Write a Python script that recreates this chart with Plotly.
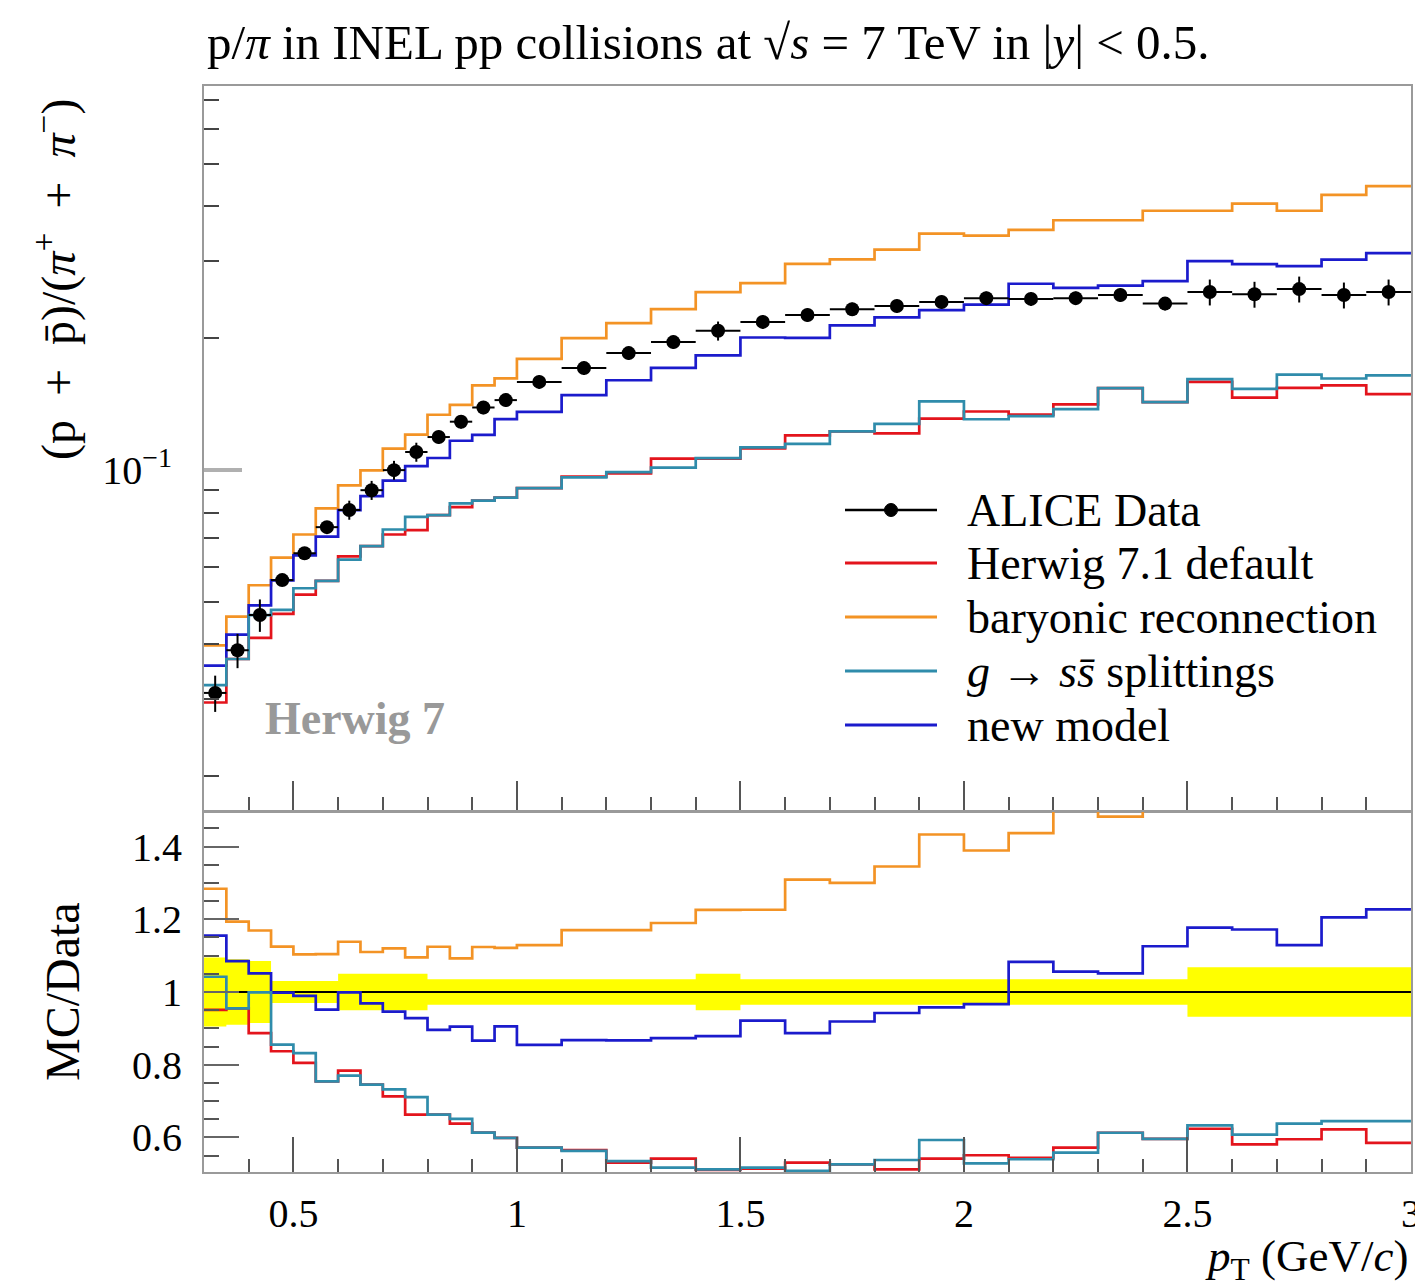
import plotly.graph_objects as go

# ---------------- data ----------------
edges = [0.30, 0.35, 0.40, 0.45, 0.50, 0.55, 0.60, 0.65, 0.70, 0.75, 0.80, 0.85, 0.90, 0.95, 1.00,
         1.1, 1.2, 1.3, 1.4, 1.5, 1.6, 1.7, 1.8, 1.9, 2.0, 2.1, 2.2, 2.3, 2.4, 2.5, 2.6, 2.7, 2.8, 2.9, 3.0]

alice = [0.0310, 0.0388, 0.0467, 0.0561, 0.0646, 0.0741, 0.0811, 0.0900, 0.1000, 0.1100,
         0.1190, 0.1290, 0.1390, 0.1445, 0.159, 0.171, 0.185, 0.196, 0.208, 0.218,
         0.226, 0.233, 0.237, 0.242, 0.247, 0.246, 0.247, 0.251, 0.240, 0.255,
         0.252, 0.259, 0.251, 0.255]

alice_relerr = [0.095, 0.090, 0.085, 0.030, 0.030, 0.030, 0.050, 0.050, 0.050, 0.050,
                0.035, 0.035, 0.035, 0.035, 0.035, 0.035, 0.035, 0.035, 0.050, 0.035,
                0.035, 0.035, 0.035, 0.035, 0.035, 0.035, 0.035, 0.035, 0.035, 0.068,
                0.068, 0.068, 0.068, 0.068]

herwig_default = [0.02948, 0.03705, 0.04142, 0.04696, 0.05200, 0.05587, 0.06358, 0.06705, 0.07130, 0.07293,
                  0.07890, 0.08230, 0.08521, 0.08656, 0.09095, 0.09662, 0.09824, 0.10623, 0.10629, 0.11205,
                  0.12001, 0.12256, 0.12134, 0.13116, 0.13610, 0.13382, 0.14128, 0.15386, 0.14304, 0.15912,
                  0.14641, 0.15411, 0.15612, 0.14918]

baryonic_reco = [0.0398, 0.0463, 0.0546, 0.0631, 0.0713, 0.0818, 0.0923, 0.0999, 0.1120, 0.1205,
                 0.1338, 0.1409, 0.1562, 0.1620, 0.1795, 0.2001, 0.2165, 0.2332, 0.2550, 0.2673,
                 0.2958, 0.3029, 0.3188, 0.3468, 0.3431, 0.3535, 0.372, 0.372, 0.391, 0.391,
                 0.406, 0.391, 0.425, 0.445]

g_to_ssbar = [0.03230, 0.03705, 0.04665, 0.04797, 0.05375, 0.05587, 0.06245, 0.06705, 0.07320, 0.07821,
              0.07890, 0.08398, 0.08521, 0.08656, 0.09095, 0.09627, 0.09898, 0.10133, 0.10650, 0.11271,
              0.11481, 0.12256, 0.12751, 0.14351, 0.13066, 0.13284, 0.13783, 0.15386, 0.14304, 0.16142,
              0.15322, 0.16524, 0.16190, 0.16448]

new_model = [0.0358, 0.0421, 0.0491, 0.0560, 0.0639, 0.0705, 0.0810, 0.0872, 0.0946, 0.1021,
             0.1066, 0.1167, 0.1204, 0.1308, 0.1359, 0.1484, 0.1604, 0.1711, 0.1828, 0.2008,
             0.2005, 0.2141, 0.2233, 0.2318, 0.2388, 0.2664, 0.2608, 0.2638, 0.2702, 0.3001,
             0.2953, 0.2924, 0.3025, 0.3129]

x_tick_vals = [0.5, 1.0, 1.5, 2.0, 2.5, 3.0]
x_tick_text = ["0.5", "1", "1.5", "2", "2.5", "3"]
x_minor_vals = [0.4, 0.6, 0.7, 0.8, 0.9, 1.1, 1.2, 1.3, 1.4, 1.6, 1.7, 1.8, 1.9,
                2.1, 2.2, 2.3, 2.4, 2.6, 2.7, 2.8, 2.9]
y_tick_vals = [0.1]
y_tick_text = ["10<sup>−1</sup>"]
y_minor_vals = [0.02, 0.03, 0.04, 0.05, 0.06, 0.07, 0.08, 0.09, 0.2, 0.3, 0.4, 0.5, 0.6, 0.7]
r_tick_vals = [0.6, 0.8, 1.0, 1.2, 1.4]
r_tick_text = ["0.6", "0.8", "1", "1.2", "1.4"]
r_minor_vals = [0.55, 0.65, 0.7, 0.75, 0.85, 0.9, 0.95, 1.05, 1.1, 1.15, 1.25, 1.3, 1.35, 1.45]

# ---------------- styles ----------------
FONT = "Liberation Serif, DejaVu Serif, serif"
models = [
    ("Herwig 7.1 default", herwig_default, "#e3141c", 2.7),
    ("baryonic reconnection", baryonic_reco, "#f39325", 2.7),
    ("<i>g</i> → <i>s</i><i>s̄</i> splittings", g_to_ssbar, "#2f8cab", 2.7),
    ("new model", new_model, "#1b1bcc", 2.7),
]
draw_order = [1, 3, 0, 2]

W, H = 1415, 1288
ML, MR, MT, MB = 204, 4, 86, 116
PW, PH = W - ML - MR, H - MT - MB


def px(xp):
    return (xp - ML) / PW


def py(yp):
    return (H - MB - yp) / PH


centers = [(a + b) / 2 for a, b in zip(edges[:-1], edges[1:])]
halfw = [(b - a) / 2 for a, b in zip(edges[:-1], edges[1:])]


def step(v):
    return list(v) + [v[-1]]


fig = go.Figure()

# ratio band (data uncertainty)
band_lo = [1 - e for e in alice_relerr]
band_hi = [1 + e for e in alice_relerr]
fig.add_trace(go.Scatter(x=edges, y=step(band_lo), xaxis="x2", yaxis="y2", mode="lines",
                         line=dict(shape="hv", width=0, color="#ffff00"), showlegend=False, hoverinfo="skip"))
fig.add_trace(go.Scatter(x=edges, y=step(band_hi), xaxis="x2", yaxis="y2", mode="lines",
                         line=dict(shape="hv", width=0, color="#ffff00"), fill="tonexty",
                         fillcolor="#ffff00", showlegend=False, hoverinfo="skip"))
fig.add_trace(go.Scatter(x=edges, y=step([d / d for d in alice]), xaxis="x2", yaxis="y2", mode="lines",
                         line=dict(shape="hv", width=2, color="black"), showlegend=False))

for i in draw_order:
    name, vals, col, lw = models[i]
    fig.add_trace(go.Scatter(x=edges, y=step(vals), xaxis="x", yaxis="y", mode="lines", name=name,
                             line=dict(shape="hv", width=lw, color=col), showlegend=False))
    ratio = [m / d for m, d in zip(vals, alice)]
    fig.add_trace(go.Scatter(x=edges, y=step(ratio), xaxis="x2", yaxis="y2", mode="lines", name=name,
                             line=dict(shape="hv", width=lw, color=col), showlegend=False))

fig.add_trace(go.Scatter(
    x=centers, y=alice, xaxis="x", yaxis="y", mode="markers", name="ALICE Data",
    marker=dict(color="black", size=14, symbol="circle"),
    error_x=dict(type="data", array=halfw, color="black", thickness=2, width=0),
    error_y=dict(type="data", array=[d * e for d, e in zip(alice, alice_relerr)],
                 color="black", thickness=2, width=0),
    showlegend=False))

# ---------------- axes ----------------
frame = dict(showline=True, mirror=True, linecolor="#9a9a9a", linewidth=2,
             showgrid=False, zeroline=False, automargin=False)
tick_font = dict(family=FONT, size=40, color="black")

fig.update_layout(
    width=W, height=H, margin=dict(l=ML, r=MR, t=MT, b=MB, autoexpand=False),
    paper_bgcolor="white", plot_bgcolor="white",
    xaxis=dict(domain=[0, 1], anchor="y", range=[0.3, 3.0001], showticklabels=False,
               ticks="inside", tickvals=x_tick_vals, ticklen=30, tickwidth=2, tickcolor="#555",
               minor=dict(tickvals=x_minor_vals, ticks="inside", ticklen=14, tickwidth=1.5, tickcolor="#555"),
               **frame),
    yaxis=dict(domain=[0.3325, 1], anchor="x", type="log", range=[-1.778, -0.123],
               tickvals=y_tick_vals, ticktext=y_tick_text, ticks="inside", ticklen=38,
               tickwidth=4, tickcolor="#b0b0b0", tickfont=tick_font, ticklabelstandoff=22,
               minor=dict(tickvals=y_minor_vals, ticks="inside", ticklen=15, tickwidth=1.5, tickcolor="#444"),
               **frame),
    xaxis2=dict(domain=[0, 1], anchor="y2", matches="x", range=[0.3, 3.0001],
                tickvals=x_tick_vals, ticktext=x_tick_text, ticks="inside", ticklen=35,
                tickwidth=2, tickcolor="#555", tickfont=tick_font, ticklabelstandoff=5,
                ticklabeloverflow="allow",
                minor=dict(tickvals=x_minor_vals, ticks="inside", ticklen=13, tickwidth=1.5, tickcolor="#555"),
                **frame),
    yaxis2=dict(domain=[0, 0.3315], anchor="x2", range=[0.505, 1.495],
                tickvals=r_tick_vals, ticktext=r_tick_text, ticks="inside", ticklen=35,
                tickwidth=2, tickcolor="#666", tickfont=tick_font, ticklabelstandoff=12,
                minor=dict(tickvals=r_minor_vals, ticks="inside", ticklen=15, tickwidth=1.5, tickcolor="#555"),
                **frame),
    showlegend=False,
)

# ---------------- texts ----------------
ann = []
ann.append(dict(text="p/<i>π</i> in INEL pp collisions at √<i>s</i> = 7 TeV in |<i>y</i>| &lt; 0.5.",
                x=px(205), y=py(42), xanchor="left", yanchor="middle",
                font=dict(family=FONT, size=49, color="black")))
ann.append(dict(text="(p\u2002+\u2002p̄)/(<i>π</i><sup>+</sup>\u2002+\u2002<i>π</i><sup>−</sup>)", textangle=-90,
                x=px(55), y=py(280), xanchor="center", yanchor="middle",
                font=dict(family=FONT, size=48, color="black")))
ann.append(dict(text="MC/Data", textangle=-90, x=px(62), y=py(992), xanchor="center", yanchor="middle",
                font=dict(family=FONT, size=48, color="black")))
ann.append(dict(text="<i>p</i><sub>T</sub> (GeV/<i>c</i>)", x=px(1410), y=py(1259),
                xanchor="right", yanchor="middle", font=dict(family=FONT, size=45, color="black")))
ann.append(dict(text="<b>Herwig 7</b>", x=px(355), y=py(718), xanchor="center", yanchor="middle",
                font=dict(family=FONT, size=46, color="#999999")))

# legend (manual, Rivet style)
legend_rows = [("ALICE Data", "black", 2.5)] + [(m[0], m[2], m[3] + 0.3) for m in models]
legend_y = [510, 563, 617, 671, 725]
shapes = []
for (label, col, lw), ly in zip(legend_rows, legend_y):
    shapes.append(dict(type="line", xref="paper", yref="paper", x0=px(845), x1=px(937),
                       y0=py(ly), y1=py(ly), line=dict(color=col, width=lw)))
    ann.append(dict(text=label, x=px(965), y=py(ly), xanchor="left", yanchor="middle",
                    font=dict(family=FONT, size=46, color="black")))
shapes.append(dict(type="circle", xref="paper", yref="paper", x0=px(884.5), x1=px(897.5),
                   y0=py(516.5), y1=py(503.5), fillcolor="black", line=dict(color="black", width=1)))

for a in ann:
    a.update(xref="paper", yref="paper", showarrow=False)
fig.update_layout(annotations=ann, shapes=shapes)

fig.write_html("out.html")
